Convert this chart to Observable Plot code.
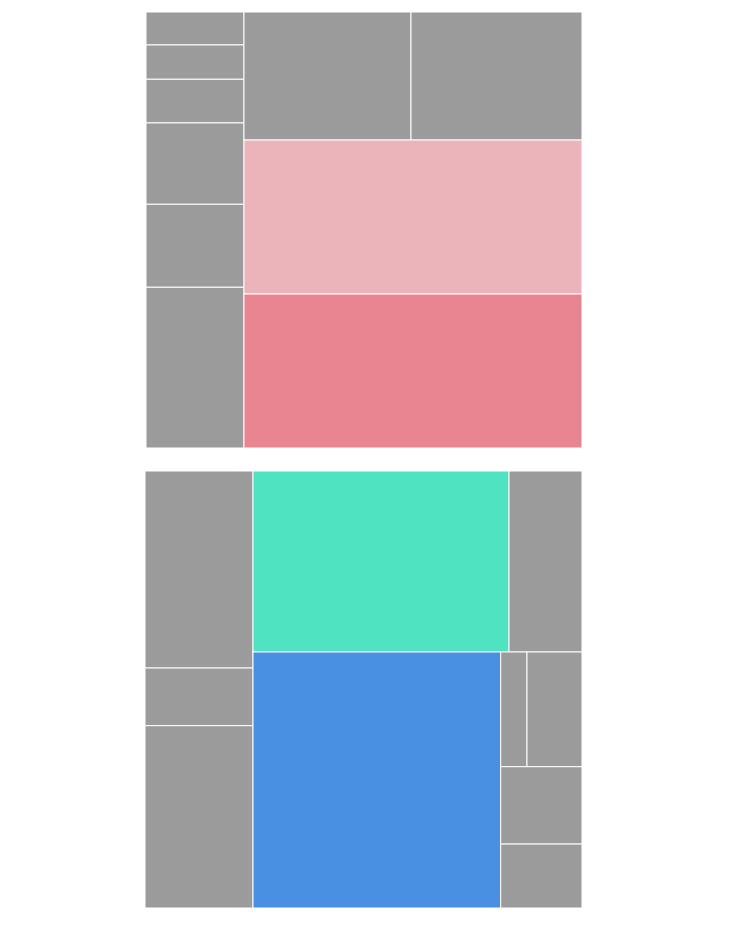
<!DOCTYPE html>
<html>
<head>
<meta charset="utf-8">
<script src="https://cdn.jsdelivr.net/npm/d3@7"></script>
<script src="https://cdn.jsdelivr.net/npm/@observablehq/plot@0.6"></script>
<style>
  html, body { margin: 0; padding: 0; background: #fff; }
  #chart svg { display: block; }
</style>
</head>
<body>
<div id="chart"></div>
<script>
// ---- Data (areas) ----
// Top treemap
const topLeft = [32.3, 33.6, 42.8, 79.7, 81.3, 157.5];
const topRow = [213.8, 218.9];
const topPinks = [520.5, 520.5];
// Bottom treemap
const botLeft = [212.8, 62.3, 196.9];
const botTopRow = [463.4, 132.1];
const botBlue = 634.1;
const botPair = [30.2, 63.1];
const botStack = [62.9, 52.0];

// Colors
const GRAY = "#9b9b9b";
const PINK_LIGHT = "#ebb3ba";
const PINK_DARK = "#e98491";
const TEAL = "#50e3c2";
const BLUE = "#4a90e2";

const leaf = (v, c = GRAY) => ({value: v, color: c});

const topTree = {children: [
  {children: topLeft.map(v => leaf(v))},
  {children: [
    {children: topRow.map(v => leaf(v))},
    leaf(topPinks[0], PINK_LIGHT),
    leaf(topPinks[1], PINK_DARK)
  ]}
]};

const botTree = {children: [
  {children: botLeft.map(v => leaf(v))},
  {children: [
    {children: [leaf(botTopRow[0], TEAL), leaf(botTopRow[1])]},
    {children: [
      leaf(botBlue, BLUE),
      {children: [
        {children: botPair.map(v => leaf(v))},
        ...botStack.map(v => leaf(v))
      ]}
    ]}
  ]}
]};

function layout(tree) {
  const root = d3.hierarchy(tree).sum(d => d.value ?? 0);
  d3.treemap().tile(d3.treemapSliceDice).size([1, 1])(root);
  return root.leaves();
}

function chart(tree, m) {
  return Plot.plot({
    width: 750,
    height: 460,
    marginLeft: m.left,
    marginRight: m.right,
    marginTop: m.top,
    marginBottom: m.bottom,
    x: {domain: [0, 1], axis: null},
    y: {domain: [0, 1], reverse: true, axis: null},
    color: {type: "identity"},
    marks: [
      Plot.rect(layout(tree), {
        x1: d => d.x0, x2: d => d.x1,
        y1: d => d.y0, y2: d => d.y1,
        fill: d => d.data.color,
        stroke: "white",
        strokeWidth: 1
      })
    ]
  });
}

const el = document.getElementById("chart");
el.appendChild(chart(topTree, {left: 146, right: 168, top: 12, bottom: 12}));
el.appendChild(chart(botTree, {left: 145, right: 168, top: 11, bottom: 12}));
</script>
</body>
</html>
